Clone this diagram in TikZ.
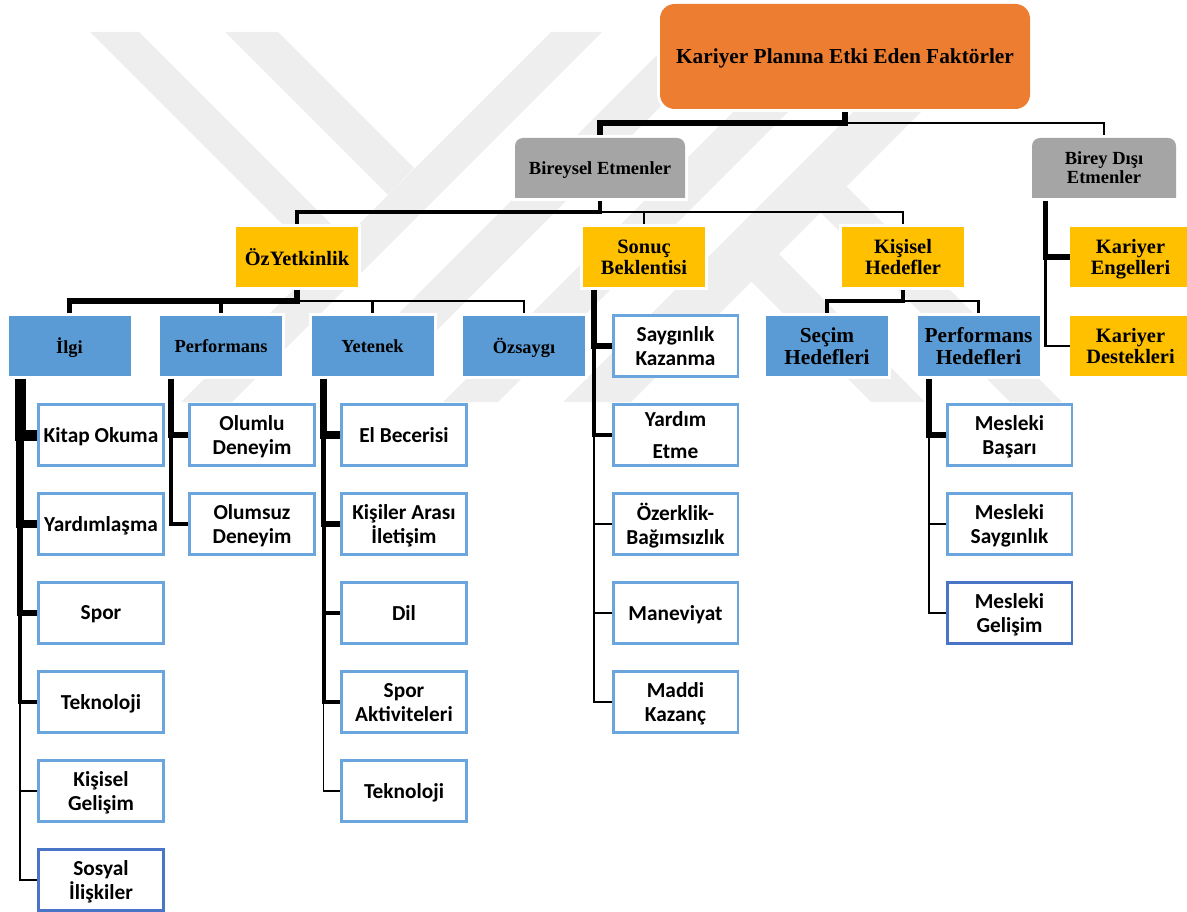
\documentclass[tikz,border=0pt]{standalone}
\usepackage{fontspec}
\setmainfont{Liberation Serif}
\newfontfamily\boxfont{Carlito}
\usetikzlibrary{calc}

\definecolor{rootOrange}{HTML}{ED7D31}
\definecolor{factorGrey}{HTML}{A5A5A5}
\definecolor{factorYellow}{HTML}{FFC000}
\definecolor{factorBlue}{HTML}{5B9BD5}
\definecolor{edgeBlue}{HTML}{6AA5DD}
\definecolor{edgeDark}{HTML}{4A74C6}
\definecolor{markGrey}{HTML}{EEEEEE}

\tikzset{
	filled/.style={inner sep=0pt, outer sep=0pt, align=center, text=black, text depth=0pt, font=\bfseries,
		preaction={draw=white,line width=4.5pt}},
	root box/.style={filled, fill=rootOrange, rounded corners=11pt, minimum width=277.5pt, minimum height=78.75pt,
		font=\bfseries\fontsize{16}{18}\selectfont},
	grey box/.style={filled, minimum height=45pt,
		font=\bfseries\fontsize{13.9}{14.2}\selectfont,
		path picture={\fill[factorGrey] [sharp corners] (path picture bounding box.south west)
			[rounded corners=6pt] -- (path picture bounding box.north west)
			-- (path picture bounding box.north east)
			[sharp corners] -- (path picture bounding box.south east) -- cycle;}},
	yellow box/.style={filled, fill=factorYellow, minimum width=91.5pt, minimum height=45pt,
		font=\bfseries\fontsize{15.3}{15.75}\selectfont},
	blue box/.style={filled, fill=factorBlue, minimum width=91.5pt, minimum height=45pt,
		font=\bfseries\fontsize{13.8}{16}\selectfont},
	goal box/.style={blue box, font=\bfseries\fontsize{16}{16.5}\selectfont},
	leaf box/.style={draw=edgeBlue, line width=1.9pt, fill=white, inner sep=0pt, align=center, text depth=0pt,
		minimum width=93.4pt, minimum height=46.1pt, font=\boxfont\bfseries\fontsize{16}{18}\selectfont},
	leaf dark/.style={leaf box, draw=edgeDark},
	link/.style={draw=black, shorten <=2.25pt},
	down/.style={link, shorten >=2.25pt},
	xxl/.style={line width=8.25pt},
	xl/.style={line width=5.6pt},
	large/.style={line width=4.1pt},
	mid/.style={line width=3pt},
	thin link/.style={line width=1.6pt},
	hair/.style={line width=.9pt}
}

\begin{document}
\begin{tikzpicture}[x=0.75pt,y=-0.75pt]
	\useasboundingbox (0,0) rectangle (1187,912);

	% watermark
	\begin{scope}
		\fill[markGrey] (90,32) -- (139,32) -- (345,238) -- (320,262) -- cycle;
		\fill[markGrey] (225,32) -- (278,32) -- (414,168) -- (388,195) -- cycle;
		\fill[markGrey] (551,32) -- (602,32) -- (232,402) -- (181,402) -- cycle;
		\fill[markGrey] (672,40) -- (727,40) -- (397,370) -- (342,370) -- cycle;
		\fill[markGrey] (805,40) -- (860,40) -- (498,402) -- (443,402) -- cycle;
		\fill[markGrey] (925,40) -- (993,40) -- (631,402) -- (563,402) -- cycle;
		\fill[markGrey] (748,278) -- (777,252) -- (925,402) -- (871,402) -- cycle;
		\fill[markGrey] (819,211) -- (845,185) -- (1062,402) -- (1010,402) -- cycle;
	\end{scope}

	% top levels
	\node[root box] (root) at (845,56.5) {Kariyer Planına Etki Eden Faktörler};
	\node[grey box, minimum width=127.5pt] (bireysel) at (600,168) {Bireysel Etmenler};
	\node[grey box, minimum width=108pt] (birey_disi) at (1104,168) {Birey Dışı\\Etmenler};

	\node[yellow box] (ozyetkinlik) at (297,257) {ÖzYetkinlik};
	\node[yellow box] (sonuc) at (644,257) {Sonuç\\Beklentisi};
	\node[yellow box] (kisisel) at (903,257) {Kişisel\\Hedefler};
	\node[yellow box] (engeller) at (1130.5,257) {Kariyer\\Engelleri};
	\node[yellow box] (destekler) at (1130.5,346) {Kariyer\\Destekleri};

	\node[blue box] (ilgi) at (69.5,346) {İlgi};
	\node[blue box] (performans) at (221,346) {Performans};
	\node[blue box] (yetenek) at (372.5,346) {Yetenek};
	\node[blue box] (ozsaygi) at (524,346) {Özsaygı};
	\node[goal box] (secim) at (827,346) {Seçim\\Hedefleri};
	\node[goal box] (perf_hedef) at (978.5,346) {Performans\\Hedefleri};

	% leaves of ilgi
	\node[leaf box] (kitap) at (101,435) {Kitap Okuma};
	\node[leaf box] (yardimlasma) at (101,524) {Yardımlaşma};
	\node[leaf box] (spor) at (101,613) {Spor};
	\node[leaf box] (teknoloji_a) at (101,702) {Teknoloji};
	\node[leaf box] (gelisim) at (101,791) {Kişisel\\Gelişim};
	\node[leaf dark] (sosyal) at (101,880) {Sosyal\\İlişkiler};

	% leaves of performans
	\node[leaf box] (olumlu) at (252,435) {Olumlu\\Deneyim};
	\node[leaf box] (olumsuz) at (252,524) {Olumsuz\\Deneyim};

	% leaves of yetenek
	\node[leaf box] (el) at (404,435) {El Becerisi};
	\node[leaf box] (iletisim) at (404,524) {Kişiler Arası\\İletişim};
	\node[leaf box] (dil) at (404,613) {Dil};
	\node[leaf box] (aktivite) at (404,702) {Spor\\Aktiviteleri};
	\node[leaf box] (teknoloji_b) at (404,791) {Teknoloji};

	% leaves of sonuc
	\node[leaf box] (saygin) at (675.5,346) {Saygınlık\\Kazanma};
	\node[leaf box] (yardim) at (675.5,435) {Yardım\\[6pt]Etme};
	\node[leaf box] (ozerk) at (675.5,524) {Özerklik-\\Bağımsızlık};
	\node[leaf box] (maneviyat) at (675.5,613) {Maneviyat};
	\node[leaf box] (maddi) at (675.5,702) {Maddi\\Kazanç};

	% leaves of perf_hedef
	\node[leaf box] (basari) at (1009.5,435) {Mesleki\\Başarı};
	\node[leaf box] (saygi) at (1009.5,524) {Mesleki\\Saygınlık};
	\node[leaf dark] (mesleki) at (1009.5,613) {Mesleki\\Gelişim};

	\coordinate (ilgi_bus) at ($(ilgi.south west)+(11.5,0)$);
	\coordinate (performans_bus) at ($(performans.south west)+(11,0)$);
	\coordinate (yetenek_bus) at ($(yetenek.south west)+(12,0)$);
	\coordinate (sonuc_bus) at ($(sonuc.south west)+(11,0)$);
	\coordinate (perf_hedef_bus) at ($(perf_hedef.south west)+(11.5,0)$);
	\coordinate (birey_bus) at ($(birey_disi.south west)+(13.5,0)$);

	% links going down
	\draw[down,hair] (root.south) -- ++(0,14) -| (birey_disi.north);
	\draw[down,large] (root.south) -- ++(0,14) -| (bireysel.north);
	\draw[down,hair] (bireysel.south) -- ++(0,14) -| (kisisel.north);
	\draw[down,thin link] (bireysel.south) -- ++(0,14) -| (sonuc.north);
	\draw[down,mid] (bireysel.south) -- ++(0,14) -| (ozyetkinlik.north);
	\draw[down,hair] (ozyetkinlik.south) -- ++(0,14) -| (ozsaygi.north);
	\draw[down,thin link] (ozyetkinlik.south) -- ++(0,14) -| (yetenek.north);
	\draw[down,mid] (ozyetkinlik.south) -- ++(0,14) -| (performans.north);
	\draw[down,large] (ozyetkinlik.south) -- ++(0,14) -| (ilgi.north);
	\draw[down,thin link] (kisisel.south) -- ++(0,14) -| (perf_hedef.north);
	\draw[down,mid] (kisisel.south) -- ++(0,14) -| (secim.north);

	% links going sideways
	\draw[link,thin link] (ilgi_bus) |- (sosyal.west);
	\draw[link,hair] (ilgi_bus) |- (gelisim.west);
	\draw[link,mid] (ilgi_bus) |- (teknoloji_a.west);
	\draw[link,large] (ilgi_bus) |- (spor.west);
	\draw[link,xl] (ilgi_bus) |- (yardimlasma.west);
	\draw[link,xxl] (ilgi_bus) |- (kitap.west);

	\draw[link,mid] (performans_bus) |- (olumsuz.west);
	\draw[link,large] (performans_bus) |- (olumlu.west);

	\draw[link,hair] (yetenek_bus) |- (teknoloji_b.west);
	\draw[link,mid] (yetenek_bus) |- (aktivite.west);
	\draw[link,mid] (yetenek_bus) |- (dil.west);
	\draw[link,large] (yetenek_bus) |- (iletisim.west);
	\draw[link,xl] (yetenek_bus) |- (el.west);

	\draw[link,hair] (sonuc_bus) |- (maddi.west);
	\draw[link,hair] (sonuc_bus) |- (maneviyat.west);
	\draw[link,thin link] (sonuc_bus) |- (ozerk.west);
	\draw[link,mid] (sonuc_bus) |- (yardim.west);
	\draw[link,large] (sonuc_bus) |- (saygin.west);

	\draw[link,hair] (perf_hedef_bus) |- (mesleki.west);
	\draw[link,thin link] (perf_hedef_bus) |- (saygi.west);
	\draw[link,large] (perf_hedef_bus) |- (basari.west);

	\draw[link,thin link] (birey_bus) |- (destekler.west);
	\draw[link,large] (birey_bus) |- (engeller.west);
\end{tikzpicture}
\end{document}
